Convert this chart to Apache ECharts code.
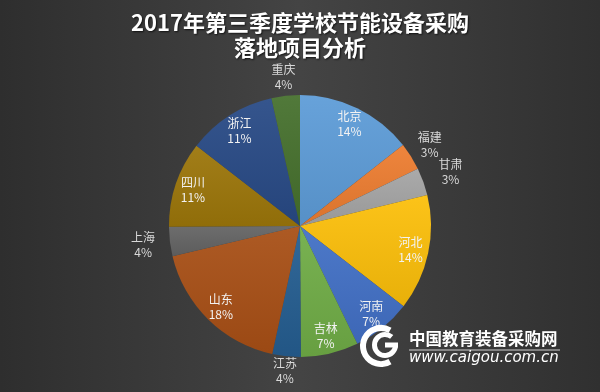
<!DOCTYPE html>
<html>
<head>
<meta charset="utf-8">
<script src="https://cdn.jsdelivr.net/npm/echarts@6/dist/echarts.min.js"></script>
<style>
html,body{margin:0;padding:0;background:#333;}
#chart{width:600px;height:392px;}
</style>
</head>
<body>
<div id="chart"></div>
<script>
const titleLines = ['2017年第三季度学校节能设备采购', '落地项目分析'];
const provinces = ['北京', '福建', '甘肃', '河北', '河南', '吉林', '江苏', '山东', '上海', '四川', '浙江', '重庆'];
const shares = [14.4, 3.4, 3.4, 14.3, 7.3, 7.1, 3.5, 17.9, 3.6, 10.6, 11.0, 3.5];
const sliceColors = ['#5d9cd8', '#ed7d31', '#a5a5a5', '#fcbf0a', '#4270c6', '#70ad47', '#255e91', '#a84f16', '#646464', '#9c760a', '#284a86', '#46702d'];
const watermarkName = '中国教育装备采购网';
const watermarkUrl = 'www.caigou.com.cn';

// label placement style (distance of outside labels from centre)
const outerLabelDistance = {'福建': 153, '甘肃': 160, '江苏': 146, '上海': 158, '重庆': 150};

function shade(hex, f) {
  const n = parseInt(hex.slice(1), 16);
  let r = (n >> 16) & 255, g = (n >> 8) & 255, b = n & 255;
  if (f >= 0) { r += (255 - r) * f; g += (255 - g) * f; b += (255 - b) * f; }
  else { r *= 1 + f; g *= 1 + f; b *= 1 + f; }
  return 'rgb(' + Math.round(r) + ',' + Math.round(g) + ',' + Math.round(b) + ')';
}

const chart = echarts.init(document.getElementById('chart'), null, {renderer: 'canvas'});
const FONT = '"Noto Sans CJK SC", "Noto Sans", sans-serif';
const CENTER = [300, 226];
const R = 131;
const LBW = 30;

const mainData = provinces.map((name, i) => {
  const item = {
    name: name,
    value: shares[i],
    itemStyle: {
      color: new echarts.graphic.LinearGradient(0, 0, 0, 1, [
        {offset: 0, color: shade(sliceColors[i], 0.06)},
        {offset: 1, color: shade(sliceColors[i], -0.08)}
      ])
    }
  };
  if (shares[i] < 5) {
    const d = outerLabelDistance[name] || 152;
    item.label = {show: true};
    item.labelLine = {show: false, length: d - R, length2: -LBW / 2};
  }
  return item;
});

const innerData = provinces.map((name, i) => ({
  name: name,
  value: shares[i],
  itemStyle: {color: 'rgba(0,0,0,0)'},
  label: {show: shares[i] >= 5}
}));

chart.setOption({
  backgroundColor: new echarts.graphic.LinearGradient(0, 0, 1, 0, [
    {offset: 0, color: '#2e2e2e'},
    {offset: 0.5, color: '#444444'},
    {offset: 1, color: '#303030'}
  ]),
  animation: false,
  title: {
    text: titleLines.join('\n'),
    left: 'center',
    top: 10,
    padding: 0,
    textStyle: {
      color: '#ffffff',
      fontFamily: FONT,
      fontWeight: 'bold',
      fontSize: 22,
      lineHeight: 25,
      textShadowColor: 'rgba(0,0,0,0.7)',
      textShadowBlur: 2,
      textShadowOffsetX: 1,
      textShadowOffsetY: 1
    }
  },
  series: [
    {
      type: 'pie',
      center: CENTER,
      radius: [0, R],
      startAngle: 90,
      clockwise: true,
      silent: true,
      avoidLabelOverlap: false,
      emphasis: {disabled: true},
      label: {
        show: false,
        position: 'outside',
        alignTo: 'none',
        distanceToLabelLine: 0,
        formatter: p => '{a|' + p.name + '}\n{a|' + Math.round(p.value) + '%}',
        rich: {
          a: {width: LBW, align: 'center', color: '#d9d9d9', fontFamily: FONT, fontSize: 12, lineHeight: 15}
        }
      },
      labelLine: {show: false},
      data: mainData
    },
    {
      type: 'pie',
      center: CENTER,
      radius: [89, R],
      startAngle: 90,
      clockwise: true,
      silent: true,
      avoidLabelOverlap: false,
      emphasis: {disabled: true},
      labelLine: {show: false},
      label: {
        position: 'inside',
        formatter: p => p.name + '\n' + Math.round(p.value) + '%',
        color: '#f2f2f2',
        fontFamily: FONT,
        fontSize: 12,
        lineHeight: 15
      },
      data: innerData
    }
  ],
  graphic: [
    {
      type: 'sector', z: 100,
      shape: {cx: 381, cy: 346, r: 21, r0: 15, startAngle: Math.PI / 3, endAngle: Math.PI * 5 / 3, clockwise: true},
      style: {fill: '#ffffff'}
    },
    {
      type: 'sector', z: 100,
      shape: {cx: 385, cy: 345, r: 13, r0: 8, startAngle: 0, endAngle: Math.PI * 1.72, clockwise: true},
      style: {fill: '#ffffff'}
    },
    {
      type: 'rect', z: 100,
      shape: {x: 385, y: 342.5, width: 13, height: 5},
      style: {fill: '#ffffff'}
    },
    {
      type: 'text', z: 100, x: 409, y: 339,
      style: {text: watermarkName, fill: '#ffffff', font: 'bold 16.5px ' + FONT, textVerticalAlign: 'middle'}
    },
    {
      type: 'line', z: 100,
      shape: {x1: 409, y1: 350, x2: 560, y2: 350},
      style: {stroke: '#cfcfcf', lineWidth: 1}
    },
    {
      type: 'text', z: 100, x: 409, y: 358,
      style: {text: watermarkUrl, fill: '#ffffff', font: 'italic 15px "DejaVu Sans", sans-serif', textVerticalAlign: 'middle'}
    }
  ]
});
</script>
</body>
</html>
